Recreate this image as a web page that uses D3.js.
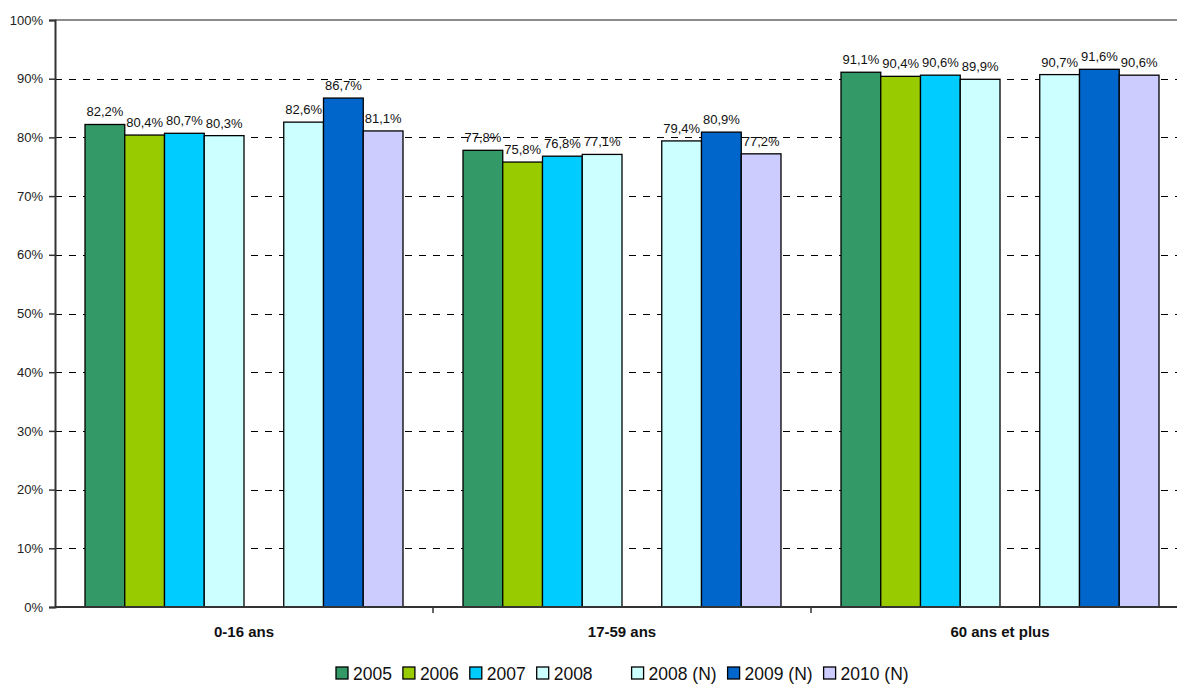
<!DOCTYPE html>
<html>
<head>
<meta charset="utf-8">
<script src="https://cdn.jsdelivr.net/npm/d3@7"></script>
<style>
  html, body { margin: 0; padding: 0; background: #fff; }
  svg { display: block; font-family: Arial, "Liberation Sans", sans-serif; }
</style>
</head>
<body>
<svg id="chart" width="1177" height="684"></svg>
<script>
// Age groups along the x axis
const categories = ["0-16 ans", "17-59 ans", "60 ans et plus"];

// Series, in drawing order; an empty slot separates the two survey waves
const seriesNames = ["2005", "2006", "2007", "2008", "2008 (N)", "2009 (N)", "2010 (N)"];
const slotKeys = ["2005", "2006", "2007", "2008", "", "2008 (N)", "2009 (N)", "2010 (N)"];
const seriesColors = ["#339966", "#99cc00", "#00ccff", "#ccffff", "#ccffff", "#0066cc", "#ccccff"];

// Values (%) per series, one per age group
const v2005 = [82.2, 77.8, 91.1];
const v2006 = [80.4, 75.8, 90.4];
const v2007 = [80.7, 76.8, 90.6];
const v2008 = [80.3, 77.1, 89.9];
const v2008N = [82.6, 79.4, 90.7];
const v2009N = [86.7, 80.9, 91.6];
const v2010N = [81.1, 77.2, 90.6];
const seriesValues = [v2005, v2006, v2007, v2008, v2008N, v2009N, v2010N];

// Y axis ticks
const yTicks = [0, 10, 20, 30, 40, 50, 60, 70, 80, 90, 100];

const svg = d3.select("#chart");
const plot = { left: 55, right: 1189, top: 20, bottom: 607 };

const x0 = d3.scaleBand().domain(categories).range([plot.left, plot.right]);
const x1 = d3.scaleBand().domain(slotKeys).range([30, x0.bandwidth() - 30]);
const y = d3.scaleLinear().domain([0, 100]).range([plot.bottom, plot.top]);

const fmt = v => v.toFixed(1).replace(".", ",") + "%";

// Dashed gridlines
svg.append("g")
  .selectAll("line")
  .data(yTicks.filter(t => t > 0 && t < 100))
  .join("line")
  .attr("x1", plot.left).attr("x2", plot.right)
  .attr("y1", d => Math.round(y(d)) + 0.5).attr("y2", d => Math.round(y(d)) + 0.5)
  .attr("stroke", "#000").attr("stroke-width", 1)
  .attr("stroke-dasharray", "7,7");

// Top border of the plot area
svg.append("line")
  .attr("x1", plot.left).attr("x2", plot.right)
  .attr("y1", y(100)).attr("y2", y(100))
  .attr("stroke", "#8c8c8c").attr("stroke-width", 2);

// Bars
const rows = [];
seriesNames.forEach((s, i) => {
  categories.forEach((c, j) => rows.push({ series: s, cat: c, value: seriesValues[i][j], color: seriesColors[i] }));
});

svg.append("g")
  .selectAll("rect")
  .data(rows)
  .join("rect")
  .attr("x", d => x0(d.cat) + x1(d.series))
  .attr("width", x1.bandwidth())
  .attr("y", d => y(d.value))
  .attr("height", d => y(0) - y(d.value))
  .attr("fill", d => d.color)
  .attr("stroke", "#000")
  .attr("stroke-width", 1.3);

// Value labels
svg.append("g")
  .selectAll("text")
  .data(rows)
  .join("text")
  .attr("x", d => x0(d.cat) + x1(d.series) + x1.bandwidth() / 2)
  .attr("y", d => y(d.value) - 8)
  .attr("text-anchor", "middle")
  .attr("font-size", 13)
  .attr("fill", "#111")
  .text(d => fmt(d.value));

// Y axis
const yAxis = d3.axisLeft(y).tickValues(yTicks).tickSize(6).tickFormat(d => d + "%");
const gy = svg.append("g").attr("transform", `translate(${plot.left},0)`).call(yAxis);
gy.select(".domain").attr("stroke", "#333").attr("stroke-width", 2);
gy.selectAll(".tick line").attr("stroke", "#333").attr("stroke-width", 1.5);
gy.selectAll(".tick text").attr("font-size", 13).attr("fill", "#222").attr("x", -12)
  .attr("font-family", "Arial, 'Liberation Sans', sans-serif");

// X axis with ticks between the groups
svg.append("line")
  .attr("x1", plot.left).attr("x2", plot.right)
  .attr("y1", plot.bottom).attr("y2", plot.bottom)
  .attr("stroke", "#333").attr("stroke-width", 2);
svg.append("g")
  .selectAll("line")
  .data(categories.slice(1))
  .join("line")
  .attr("x1", d => x0(d)).attr("x2", d => x0(d))
  .attr("y1", plot.bottom).attr("y2", plot.bottom + 6)
  .attr("stroke", "#333").attr("stroke-width", 1.5);

svg.append("g")
  .selectAll("text")
  .data(categories)
  .join("text")
  .attr("x", d => x0(d) + x0.bandwidth() / 2)
  .attr("y", 637)
  .attr("text-anchor", "middle")
  .attr("font-size", 15)
  .attr("font-weight", "bold")
  .attr("fill", "#111")
  .text(d => d);

// Legend (slightly condensed text)
const legend = svg.append("g");
let lx = 336;
slotKeys.forEach(k => {
  if (k === "") { lx += 28; return; }
  const si = seriesNames.indexOf(k);
  legend.append("rect")
    .attr("x", lx).attr("y", 667).attr("width", 12).attr("height", 12)
    .attr("fill", seriesColors[si]).attr("stroke", "#000").attr("stroke-width", 1.3);
  const t = legend.append("text")
    .attr("x", lx + 17).attr("y", 680)
    .attr("font-size", 19).attr("fill", "#111")
    .text(k);
  const w = t.node().getComputedTextLength() * 0.92;
  t.attr("textLength", w).attr("lengthAdjust", "spacingAndGlyphs");
  lx += 17 + w + 11;
});
</script>
</body>
</html>
